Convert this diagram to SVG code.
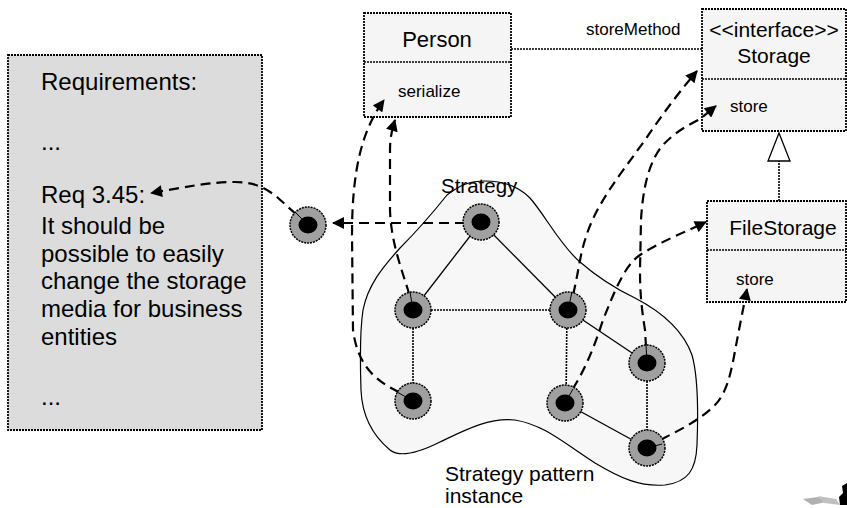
<svg xmlns="http://www.w3.org/2000/svg" width="847" height="508" viewBox="0 0 847 508">
<style>
  text { font-family: "Liberation Sans", Arial, sans-serif; fill: #000; }
  .big { font-size: 24px; }
  .title { font-size: 21px; }
  .small { font-size: 17px; }
  .box { fill: #f5f5f5; stroke: #000; stroke-width: 1.8; stroke-dasharray: 2 1; }
  .req { fill: #dcdcdc; stroke: #000; stroke-width: 1.8; stroke-dasharray: 2 1; }
  .edge { stroke: #000; stroke-width: 1.3; fill: none; }
  .dot { stroke-width: 1.6; stroke-dasharray: 2 1; }
  .dash { stroke: #000; stroke-width: 2.2; fill: none; stroke-dasharray: 10 6; }
  .ring { fill: #a0a0a0; stroke: #000; stroke-width: 1.5; stroke-dasharray: 2 1; }
  .core { fill: #000; }
  .tick { stroke: #000; stroke-width: 1; }
</style>
<defs>
  <marker id="arr" viewBox="0 0 12 12" refX="11" refY="6" markerWidth="13" markerHeight="12" markerUnits="userSpaceOnUse" orient="auto">
    <path d="M0,0 L12,6 L0,12 Z" fill="#000"/>
  </marker>
</defs>

<!-- Requirements box -->
<g id="requirements">
  <rect class="req" x="8" y="55" width="254" height="375"/>
  <text class="big" x="41" y="90">Requirements:</text>
  <text class="big" x="41" y="150">...</text>
  <text class="big" x="41" y="203">Req 3.45:</text>
  <text class="big" x="41" y="234">It should be</text>
  <text class="big" x="41" y="262">possible to easily</text>
  <text class="big" x="41" y="289">change the storage</text>
  <text class="big" x="41" y="317">media for business</text>
  <text class="big" x="41" y="345">entities</text>
  <text class="big" x="41" y="405">...</text>
</g>

<!-- Strategy blob -->
<g id="strategy-pattern-instance">
  <path d="M447,195 C460,185 470,181 485,181 C505,181 520,188 530,198 C545,215 560,245 580,262 C595,275 612,287 635,298 C662,312 683,330 692,355 C699,380 698,420 697,445 C696,470 688,482 665,485 C640,487 620,478 595,463 C565,444 545,425 515,420 C490,417 465,430 440,442 C420,452 400,458 390,450 C372,435 362,415 361,390 C360,360 360,330 363,310 C368,285 382,268 400,248 C420,228 435,210 447,195 Z" fill="#f7f7f7" stroke="#000" stroke-width="1.2"/>
  <text x="441" y="193" style="font-size:20.5px">Strategy</text>
  <text x="445" y="481" style="font-size:21px">Strategy pattern</text>
  <text x="445" y="503" style="font-size:21px">instance</text>
</g>

<!-- UML classes -->
<g id="person">
  <rect class="box" x="364" y="13" width="147" height="104"/>
  <line class="edge dot" x1="364" y1="62" x2="511" y2="62"/>
  <text class="title" x="437" y="47" text-anchor="middle" style="font-size:22px">Person</text>
  <text class="small" x="398" y="97">serialize</text>
</g>
<g id="storage">
  <rect class="box" x="702" y="9" width="144" height="122"/>
  <line class="edge dot" x1="702" y1="79" x2="846" y2="79"/>
  <text class="title" x="774" y="37" text-anchor="middle">&lt;&lt;interface&gt;&gt;</text>
  <text class="title" x="774" y="63" text-anchor="middle">Storage</text>
  <text class="small" x="730" y="112">store</text>
</g>
<g id="filestorage">
  <rect class="box" x="707" y="201" width="139" height="101"/>
  <line class="edge dot" x1="707" y1="250" x2="846" y2="250"/>
  <text class="title" x="783" y="235" text-anchor="middle">FileStorage</text>
  <text class="small" x="736" y="285">store</text>
</g>

<!-- Connectors -->
<g id="connectors">
  <!-- UML association and generalization -->
  <line class="edge dot" x1="511" y1="49" x2="702" y2="49"/>
  <text class="small" x="586" y="35">storeMethod</text>
  <line class="edge dot" x1="779" y1="201" x2="779" y2="161"/>
  <polygon points="779,133 768,161 790,161" fill="#fff" stroke="#000" stroke-width="1.3"/>

  <!-- graph edges -->
  <line class="edge" x1="481" y1="222" x2="413" y2="310"/>
  <line class="edge" x1="481" y1="222" x2="568" y2="310"/>
  <line class="edge dot" x1="413" y1="310" x2="568" y2="310"/>
  <line class="edge dot" x1="413" y1="310" x2="413" y2="401"/>
  <line class="edge dot" x1="567" y1="310" x2="566" y2="403"/>
  <line class="edge" x1="568" y1="310" x2="647" y2="363"/>
  <line class="edge dot" x1="647" y1="363" x2="647" y2="448"/>
  <line class="edge" x1="565" y1="403" x2="647" y2="448"/>

  <!-- trace links -->
  <path class="dash" marker-end="url(#arr)" d="M308,225 L277,197 C262,185 250,182 235,182 C210,182 185,187 151,193"/>
  <path class="dash" marker-end="url(#arr)" d="M481,223 L333,223"/>
  <path class="dash" marker-end="url(#arr)" d="M413,400 L393,389 C370,377 357,360 353,330 L352,235 C352,170 362,130 384,100"/>
  <path class="dash" marker-end="url(#arr)" d="M413,310 L408,290 C400,265 391,240 390,210 L390,150 C390,138 392,130 395,120"/>
  <path class="dash" marker-end="url(#arr)" d="M568,310 L573,295 C578,275 580,255 585,240 C595,205 620,175 645,140 C660,118 675,97 697,71"/>
  <path class="dash" marker-end="url(#arr)" d="M647,363 L645,330 C641,305 640,290 640,270 L641,220 C643,185 650,160 663,145 C675,132 690,124 700,119 L716,106"/>
  <path class="dash" marker-end="url(#arr)" d="M565,403 L572,390 C585,370 595,345 603,320 C615,290 625,265 640,255 C660,242 685,232 706,222"/>
  <path class="dash" marker-end="url(#arr)" d="M647,448 L660,440 C680,430 700,420 715,405 C730,390 733,360 738,335 L747,289"/>
</g>

<!-- Nodes -->
<g id="node-req"><circle class="ring" cx="308" cy="225" r="18"/><ellipse class="core" cx="308" cy="225" rx="9.5" ry="8.5"/><line class="tick" x1="308" y1="225" x2="296" y2="213"/></g>
<g id="node-strategy"><circle class="ring" cx="481" cy="222" r="18"/><ellipse class="core" cx="481" cy="222" rx="9.5" ry="8.5"/></g>
<g id="node-left-mid"><circle class="ring" cx="413" cy="310" r="18"/><ellipse class="core" cx="413" cy="310" rx="9.5" ry="8.5"/><line class="tick" x1="413" y1="310" x2="410" y2="292"/></g>
<g id="node-right-mid"><circle class="ring" cx="568" cy="310" r="18"/><ellipse class="core" cx="568" cy="310" rx="9.5" ry="8.5"/><line class="tick" x1="568" y1="310" x2="572" y2="292"/></g>
<g id="node-left-bottom"><circle class="ring" cx="413" cy="401" r="18"/><ellipse class="core" cx="413" cy="401" rx="9.5" ry="8.5"/><line class="tick" x1="413" y1="401" x2="397" y2="392"/></g>
<g id="node-right-bottom"><circle class="ring" cx="565" cy="403" r="18"/><ellipse class="core" cx="565" cy="403" rx="9.5" ry="8.5"/><line class="tick" x1="565" y1="403" x2="573" y2="389"/></g>
<g id="node-far-right"><circle class="ring" cx="647" cy="363" r="18"/><ellipse class="core" cx="647" cy="363" rx="9.5" ry="8.5"/><line class="tick" x1="647" y1="363" x2="646" y2="345"/></g>
<g id="node-far-bottom"><circle class="ring" cx="647" cy="448" r="18"/><ellipse class="core" cx="647" cy="448" rx="9.5" ry="8.5"/><line class="tick" x1="647" y1="448" x2="662" y2="444"/></g>

<!-- corner logo fragment -->
<g id="logo">
  <polygon points="803,499 818,497 826,502 812,505" fill="#b0b0b0"/>
  <polygon points="818,496 836,499 840,505 824,503" fill="#c0c0c0"/>
  <polygon points="842,486 847,483 847,505 840,505 839,497 843,493" fill="#000"/>
</g>
</svg>
